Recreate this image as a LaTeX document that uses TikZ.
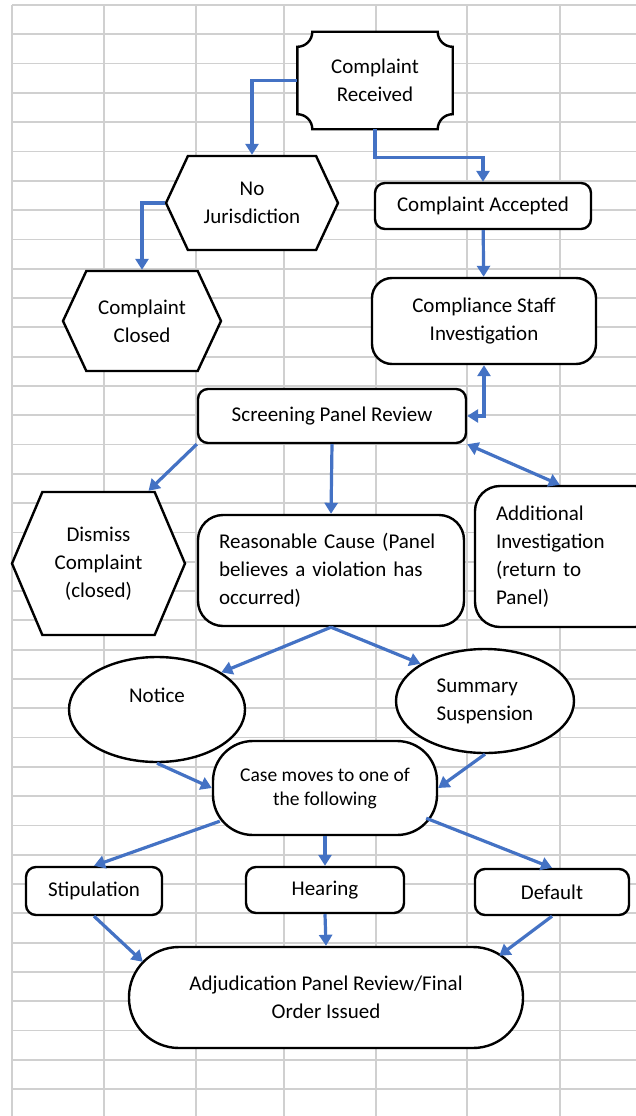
\documentclass[tikz,border=0pt]{standalone}
\usepackage{fontspec}
\setmainfont{Carlito}
\usetikzlibrary{arrows.meta,backgrounds,calc,positioning,shapes.geometric,shapes.symbols}
\definecolor{flowblue}{HTML}{4472C4}
\definecolor{sheetgray}{HTML}{D0D0D0}
\pgfdeclarelayer{sheet}
\pgfsetlayers{sheet,background,main}
\newcommand{\stagefont}{\fontsize{21}{28}\selectfont}
\newcommand{\smallstagefont}{\fontsize{19.5}{24}\selectfont}
\tikzset{
  sheetline/.style={draw=sheetgray, line width=1.8pt},
  stage/.style={draw, fill=white, line width=2.4pt, rounded corners=10pt, align=center, font=\stagefont},
  endstage/.style={stage, sharp corners, signal, signal to=west and east, signal pointer angle=130},
  oval/.style={stage, ellipse},
  flow/.style={draw=flowblue, line width=3.2pt, -{Triangle[length=11pt,width=13pt]}},
  twoway/.style={flow, {Triangle[length=11pt,width=13pt]}-{Triangle[length=11pt,width=13pt]}},
}

\begin{document}
\begin{tikzpicture}[x=1pt, y=-1pt]
\useasboundingbox (0,0) rectangle (636,1116);

% spreadsheet grid
\begin{pgfonlayer}{sheet}
\fill[white] (0,0) rectangle (636,1116);
\foreach \gx in {12,104,196,284,376,467,560}
  \draw[sheetline] (\gx,5) -- (\gx,1116);
\foreach \k in {0,...,37}
  \draw[sheetline] (12,{5+29.3*\k}) -- (636,{5+29.3*\k});
\end{pgfonlayer}

% intake
\node[stage, draw=none, fill=none, minimum width=153pt, minimum height=95pt] (recv) at (375,80.5) {Complaint\\Received};
\begin{scope}[on background layer]
\draw[fill=white, line width=2.4pt]
  ($(recv.north west)+(15,0)$) -- ($(recv.north east)+(-15,0)$)
  .. controls +(0,8.3) and +(-8.3,0) .. ($(recv.north east)+(0,15)$)
  -- ($(recv.south east)+(0,-15)$)
  .. controls +(-8.3,0) and +(0,-8.3) .. ($(recv.south east)+(-15,0)$)
  -- ($(recv.south west)+(15,0)$)
  .. controls +(0,-8.3) and +(8.3,0) .. ($(recv.south west)+(0,-15)$)
  -- ($(recv.north west)+(0,15)$)
  .. controls +(8.3,0) and +(0,8.3) .. ($(recv.north west)+(15,0)$) -- cycle;
\end{scope}
\node[endstage, minimum width=172pt, minimum height=94pt] (nojur) at (252,203) {No\\Jurisdiction};
\node[stage, minimum width=216pt, minimum height=46pt] (accepted) at (483,206) {Complaint Accepted};
\node[endstage, minimum width=158pt, minimum height=100pt] (closed) at (142,321) {Complaint\\Closed};
\node[stage, rounded corners=20pt, minimum width=224pt, minimum height=86pt] (staff) at (484,321) {Compliance Staff\\Investigation};

% screening
\node[stage, minimum width=268pt, minimum height=54pt] (screen) at (332,416) {Screening Panel Review};
\node[endstage, signal pointer angle=134, minimum width=173pt, minimum height=143pt] (dismiss) at (98.5,563.5) {Dismiss\\Complaint\\(closed)};
\node[stage, rounded corners=25pt, align=left, text width=224pt, minimum width=266pt, minimum height=111pt] (cause) at (331,570.5) {Reasonable Cause (Panel\\believes a violation has\\occurred)};
\node[stage, rounded corners=25pt, align=left, text width=143pt, minimum width=185pt, minimum height=141pt] (additional) at (567.5,556.5) {Additional\\Investigation\\(return to\\Panel)};

% charging
\node[oval, minimum width=176pt, minimum height=105pt] (notice) at (157,709.5) {Notice\\\phantom{Notice}};
\node[oval, align=left, minimum width=178pt, minimum height=104pt] (susp) at (485,701) {Summary\\Suspension};
\node[stage, rounded corners=40pt, font=\smallstagefont, minimum width=224pt, minimum height=94pt] (casebox) at (325,788) {Case moves to one of\\the following};

% outcomes
\node[stage, minimum width=136pt, minimum height=48pt] (stip) at (94,891) {Stipulation};
\node[stage, minimum width=158pt, minimum height=46pt] (hearing) at (325,890) {Hearing};
\node[stage, minimum width=154pt, minimum height=46pt] (default) at (552,892) {Default};
\node[stage, rounded corners=50pt, minimum width=394pt, minimum height=101pt] (adjud) at (326,997.5) {Adjudication Panel Review/Final\\Order Issued};

% connectors
\draw[flow] (recv.west) -| (nojur.north);
\draw[flow] (recv.south) -- ++(0,28) -| (accepted.north);
\draw[flow] (nojur.west) -| (closed.north);
\draw[flow] (accepted) -- (staff);
\draw[twoway] (staff.south) |- (screen.east);
\draw[flow] (screen.south west) -- ($(dismiss.north)+(50,0)$);
\draw[flow] (screen.south) -- (cause.north);
\draw[twoway] (screen.south east) -- ($(additional.north west)+(86,0)$);
\draw[flow] (cause.south) -- (notice.30);
\draw[flow] (cause.south) -- (susp.150);
\draw[flow] (notice.south) -- (casebox.west);
\draw[flow] (susp.south) -- (casebox.east);
\draw[flow] ($(casebox.south west)+(8,-15)$) -- (stip.north);
\draw[flow] (casebox.south) -- (hearing.north);
\draw[flow] ($(casebox.south east)+(-12,-18)$) -- (default.north);
\draw[flow] (stip.south) -- ($(adjud.north west)+(15,16)$);
\draw[flow] (hearing.south) -- (adjud.north);
\draw[flow] (default.south) -- ($(adjud.north east)+(-25,10)$);
\end{tikzpicture}
\end{document}
